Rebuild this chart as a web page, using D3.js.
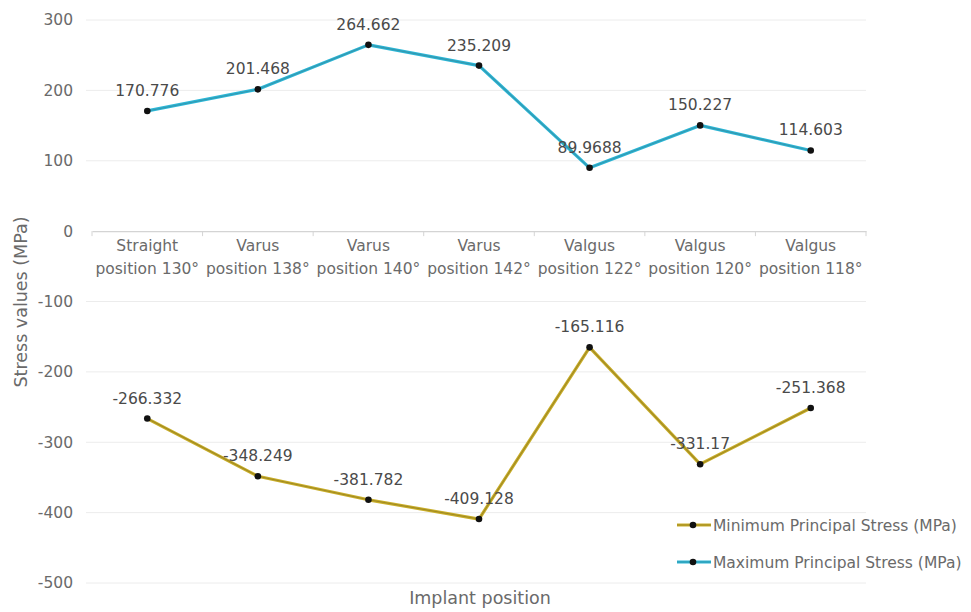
<!DOCTYPE html>
<html>
<head>
<meta charset="utf-8">
<script src="https://cdn.jsdelivr.net/npm/d3@7"></script>
<style>
  html, body { margin: 0; padding: 0; background: #fff; }
  svg { display: block; }
  text { font-family: "DejaVu Sans", "Open Sans", sans-serif; }
</style>
</head>
<body>
<svg id="chart" width="971" height="612"></svg>
<script>
// Implant positions (two-line category labels)
const categories = [
  ["Straight", "position 130°"],
  ["Varus", "position 138°"],
  ["Varus", "position 140°"],
  ["Varus", "position 142°"],
  ["Valgus", "position 122°"],
  ["Valgus", "position 120°"],
  ["Valgus", "position 118°"]
];
const maxStress = [170.776, 201.468, 264.662, 235.209, 89.9688, 150.227, 114.603];
const minStress = [-266.332, -348.249, -381.782, -409.128, -165.116, -331.17, -251.368];
const yTicks = [300, 200, 100, 0, -100, -200, -300, -400, -500];
const seriesNames = ["Minimum Principal Stress (MPa)", "Maximum Principal Stress (MPa)"];

const svg = d3.select("#chart");
const plot = { left: 92, right: 866, top: 20, bottom: 583 };
const textColor = "#6a6a6a";

const x = d3.scaleBand()
  .domain(categories.map((d, i) => i))
  .range([plot.left, plot.right])
  .padding(0);
const y = d3.scaleLinear().domain([-500, 300]).range([plot.bottom, plot.top]);

// Horizontal gridlines
svg.append("g")
  .selectAll("line")
  .data(yTicks.filter(t => t !== 0))
  .join("line")
  .attr("x1", 86).attr("x2", plot.right)
  .attr("y1", d => y(d)).attr("y2", d => y(d))
  .attr("stroke", "#ececec").attr("stroke-width", 1);

// Y axis tick labels (plain hyphen for negatives)
const yAxis = d3.axisLeft(y).tickValues(yTicks).tickSize(0).tickPadding(0)
  .tickFormat(d => String(d));
const gy = svg.append("g").attr("transform", "translate(73,0)").call(yAxis);
gy.select(".domain").remove();
gy.selectAll("text")
  .attr("fill", textColor)
  .style("font-family", "'DejaVu Sans', sans-serif")
  .style("font-size", "15.5px");

// Category axis along zero
const xAxis = d3.axisBottom(x).tickSize(0).tickFormat("");
const gx = svg.append("g").attr("transform", `translate(0,${y(0)})`).call(xAxis);
gx.select(".domain").attr("stroke", "#d4d4d4").attr("stroke-width", 1.2);
gx.selectAll(".boundary")
  .data(d3.range(categories.length + 1))
  .join("line")
  .attr("class", "boundary")
  .attr("x1", i => plot.left + i * x.bandwidth())
  .attr("x2", i => plot.left + i * x.bandwidth())
  .attr("y1", 0).attr("y2", 5)
  .attr("stroke", "#d4d4d4");

// Category labels
const catLabels = svg.append("g");
categories.forEach((lines, i) => {
  const t = catLabels.append("text")
    .attr("x", x(i) + x.bandwidth() / 2)
    .attr("y", y(0) + 20)
    .attr("text-anchor", "middle")
    .attr("fill", textColor)
    .style("font-size", "15.5px");
  lines.forEach((ln, k) => {
    t.append("tspan")
      .attr("x", x(i) + x.bandwidth() / 2)
      .attr("dy", k === 0 ? 0 : 23)
      .text(ln);
  });
});

// Axis titles
svg.append("text")
  .attr("transform", `translate(27,${302}) rotate(-90)`)
  .attr("text-anchor", "middle")
  .attr("fill", textColor)
  .style("font-size", "17.5px")
  .text("Stress values (MPa)");

svg.append("text")
  .attr("x", (plot.left + plot.right) / 2 + 1)
  .attr("y", 604)
  .attr("text-anchor", "middle")
  .attr("fill", textColor)
  .style("font-size", "17.5px")
  .text("Implant position");

const cx = i => x(i) + x.bandwidth() / 2;
const line = d3.line().x((d, i) => cx(i)).y(d => y(d));

const series = [
  { values: maxStress, color: "#2bb6d6", edge: "#3d7f8f" },
  { values: minStress, color: "#c9ae2a", edge: "#7d6c1c" }
];

series.forEach(s => {
  svg.append("path").datum(s.values)
    .attr("d", line).attr("fill", "none")
    .attr("stroke", s.color).attr("stroke-width", 3.2)
    .attr("stroke-linejoin", "round");
  svg.append("path").datum(s.values)
    .attr("d", line).attr("fill", "none")
    .attr("stroke", s.edge).attr("stroke-width", 1.1).attr("stroke-opacity", 0.55)
    .attr("stroke-linejoin", "round");
  svg.append("g").selectAll("circle").data(s.values).join("circle")
    .attr("cx", (d, i) => cx(i)).attr("cy", d => y(d))
    .attr("r", 3.3).attr("fill", "#111");
  svg.append("g").selectAll("text").data(s.values).join("text")
    .attr("x", (d, i) => cx(i)).attr("y", d => y(d) - 15)
    .attr("text-anchor", "middle")
    .attr("fill", "#4a4a4a")
    .style("font-size", "15.5px")
    .text(d => String(d));
});

// Legend
const legend = svg.append("g");
const legendItems = [
  { name: seriesNames[0], color: "#c9ae2a", edge: "#7d6c1c", y: 525 },
  { name: seriesNames[1], color: "#2bb6d6", edge: "#3d7f8f", y: 562 }
];
legendItems.forEach(it => {
  legend.append("line")
    .attr("x1", 677).attr("x2", 711).attr("y1", it.y).attr("y2", it.y)
    .attr("stroke", it.color).attr("stroke-width", 3.2);
  legend.append("line")
    .attr("x1", 677).attr("x2", 711).attr("y1", it.y).attr("y2", it.y)
    .attr("stroke", it.edge).attr("stroke-width", 1.1).attr("stroke-opacity", 0.55);
  legend.append("circle").attr("cx", 693).attr("cy", it.y).attr("r", 3.3).attr("fill", "#111");
  legend.append("text")
    .attr("x", 713).attr("y", it.y + 5.5)
    .attr("fill", textColor)
    .style("font-size", "15.5px")
    .text(it.name);
});
</script>
</body>
</html>
